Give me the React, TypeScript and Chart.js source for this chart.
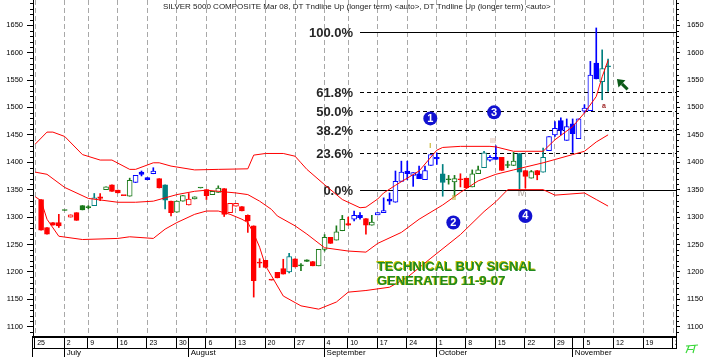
import React, { useEffect, useRef } from 'react';
import { Chart, registerables } from 'chart.js';

Chart.register(...registerables);

const FONT = "'Liberation Sans', Arial, sans-serif";

const TITLE_TEXT =
  'SILVER 5000 COMPOSITE Mar 08, DT Tndline Up (longer term) <auto>, DT Tndline Up (longer term) <auto>';

// ---------- calendar (trading sessions) ----------
const YEAR = 2007;
const MONTH_NAMES = ['June', 'July', 'August', 'September', 'October', 'November'];
const JUNE_DAYS = [25, 26, 27, 28, 29];
const JULY_DAYS = [2, 3, 5, 6, 9, 10, 11, 12, 13, 16, 17, 18, 19, 20, 23, 24, 25, 26, 27, 30, 31];
const AUGUST_DAYS = [1, 2, 3, 6, 7, 8, 9, 10, 13, 14, 15, 16, 17, 20, 21, 22, 23, 24, 27, 28, 29, 30, 31];
const SEPTEMBER_DAYS = [4, 5, 6, 7, 10, 11, 12, 13, 14, 17, 18, 19, 20, 21, 24, 25, 26, 27, 28];
const OCTOBER_DAYS = [1, 2, 3, 4, 5, 8, 9, 10, 11, 12, 15, 16, 17, 18, 19, 22, 23, 24, 25, 26, 29, 30, 31];
const NOVEMBER_DAYS = [1, 2, 5, 6, 7, 8, 9, 12, 13, 14, 15, 16, 19, 20, 21, 22, 23, 26, 27];
const MONTH_DAYS = [JUNE_DAYS, JULY_DAYS, AUGUST_DAYS, SEPTEMBER_DAYS, OCTOBER_DAYS, NOVEMBER_DAYS];

// ---------- price axis ticks ----------
const Y_TICKS = [1100, 1150, 1200, 1250, 1300, 1350, 1400, 1450, 1500, 1550, 1600, 1650];

// ---------- candles (index = session, 0 = Jun 25) ----------
const OPEN = [null,
  1332, 1281, 1290, 1290, 1312, 1300, 1308, 1321, 1319, 1321,
  1337, 1350, 1359, 1349, 1339, 1338, 1363, 1382, 1372, 1379,
  1370, 1359, 1329, 1309, 1329, 1322, 1333, 1353, 1350, 1341,
  1345, 1352, 1308, 1320, 1319, 1303, 1284, 1216, 1221, 1185,
  1199, 1206, 1200, 1224, 1211, 1222, 1219, 1211, 1241, 1263,
  1258, 1275, 1288, 1296, 1303, 1297, 1285, 1304, 1308, 1333,
  1327, 1365, 1384, 1376, 1379, 1368, 1394, 1409, 1379, 1368,
  1364, 1368, 1371, 1355, 1379, 1390, 1404, 1409, 1409, 1394,
  1394, 1416, 1385, 1371, 1385, 1382, 1421, 1450, 1476, 1440,
  1470, 1443, 1493, 1494, 1581, 1547, 1574];
const HIGH = [null,
  1332, 1281, 1290, 1305, 1312, 1304, 1308, 1321, 1321, 1343,
  1343, 1355, 1359, 1349, 1339, 1371, 1376, 1384, 1372, 1390,
  1370, 1359, 1329, 1329, 1339, 1343, 1337, 1353, 1350, 1347,
  1357, 1352, 1325, 1325, 1319, 1304, 1284, 1224, 1221, 1185,
  1199, 1223, 1234, 1224, 1215, 1222, 1219, 1241, 1268, 1263,
  1284, 1303, 1300, 1311, 1308, 1297, 1303, 1308, 1335, 1344,
  1384, 1402, 1402, 1381, 1393, 1393, 1414, 1417, 1396, 1376,
  1376, 1379, 1371, 1386, 1393, 1420, 1412, 1430, 1409, 1402,
  1418, 1416, 1385, 1385, 1385, 1426, 1447, 1474, 1481, 1479,
  1479, 1479, 1505, 1584, 1645, 1605, 1588];
const LOW = [null,
  1276, 1269, 1285, 1281, 1312, 1300, 1294, 1313, 1315, 1321,
  1330, 1350, 1347, 1344, 1339, 1338, 1363, 1375, 1368, 1379,
  1353, 1315, 1302, 1309, 1329, 1322, 1333, 1353, 1332, 1341,
  1345, 1301, 1308, 1320, 1311, 1272, 1154, 1208, 1208, 1185,
  1189, 1196, 1198, 1209, 1202, 1219, 1211, 1211, 1238, 1252,
  1258, 1275, 1285, 1293, 1296, 1269, 1285, 1304, 1308, 1323,
  1327, 1365, 1368, 1356, 1370, 1368, 1394, 1396, 1338, 1360,
  1338, 1355, 1353, 1355, 1379, 1390, 1402, 1405, 1385, 1390,
  1394, 1351, 1353, 1371, 1368, 1382, 1421, 1447, 1450, 1440,
  1418, 1443, 1490, 1494, 1552, 1514, 1529];
const CLOSE = [null,
  1276, 1269, 1285, 1284, 1312, 1304, 1294, 1313, 1317, 1335,
  1334, 1355, 1347, 1344, 1339, 1367, 1376, 1378, 1368, 1384,
  1353, 1331, 1308, 1329, 1339, 1333, 1337, 1353, 1339, 1347,
  1353, 1305, 1325, 1325, 1311, 1293, 1184, 1216, 1208, 1185,
  1189, 1196, 1228, 1209, 1211, 1219, 1211, 1241, 1263, 1252,
  1273, 1296, 1285, 1303, 1299, 1285, 1291, 1308, 1312, 1329,
  1365, 1382, 1379, 1381, 1370, 1385, 1414, 1406, 1363, 1368,
  1370, 1368, 1353, 1379, 1386, 1417, 1409, 1405, 1385, 1394,
  1402, 1382, 1374, 1383, 1377, 1409, 1447, 1462, 1458, 1465,
  1452, 1479, 1499, 1559, 1552, 1571, 1574];
// colour class of each candle: r red, g green, b blue, t teal
const CANDLE_CLASS =
  'x' + 'rrrrgrrggt' + 'rgrrrgbbbb' + 'rtrggrggrg' + 'grrrrrrrrr' + 'rrtrggrggr' +
  'ggrbbrgbbb' + 'bbbbbbbbtg' + 'grrggtbbrg' + 'gtrgrtbbbb' + 'bbbbbtt';

// ---------- bands: [session index, value] ----------
const UPPER_BAND = [
  [0, 1433], [2, 1455], [3, 1455], [5, 1447], [8, 1414], [11, 1404], [13, 1404], [16, 1387], [17, 1387],
  [20, 1399], [21, 1399], [23, 1393], [27, 1386], [31, 1387], [36, 1388], [37, 1413], [39, 1416], [42, 1416],
  [44, 1411], [45, 1399], [46, 1387], [49, 1359], [52, 1332], [55, 1317], [56, 1318], [58, 1333], [59, 1344],
  [61, 1358], [65, 1384], [68, 1422], [69, 1427], [72, 1429], [77, 1429], [78, 1428], [81, 1420], [86, 1420],
  [88, 1441], [91, 1465], [93, 1490], [95, 1520], [96, 1556], [97, 1586]];
const MIDDLE_BAND = [
  [0, 1382], [2, 1378], [5, 1354], [9, 1334], [14, 1327], [17, 1327], [20, 1329], [22, 1335], [24, 1341],
  [27, 1347], [29, 1349], [31, 1347], [34, 1344], [36, 1341], [38, 1329], [40, 1314], [41, 1302], [44, 1284],
  [46, 1269], [49, 1244], [53, 1238], [56, 1236], [58, 1252], [62, 1272], [65, 1296], [69, 1322], [72, 1345],
  [75, 1366], [78, 1378], [81, 1386], [86, 1399], [88, 1405], [91, 1414], [93, 1420], [95, 1437], [97, 1450]];
const LOWER_BAND = [
  [0, 1337], [1, 1330], [2, 1296], [4, 1265], [8, 1259], [14, 1261], [16, 1264], [20, 1261], [22, 1278],
  [24, 1290], [27, 1305], [29, 1311], [31, 1311], [33, 1305], [35, 1296], [36, 1290], [37, 1270], [38, 1245],
  [39, 1211], [40, 1193], [42, 1156], [45, 1138], [48, 1132], [51, 1145], [53, 1163], [56, 1166], [60, 1172],
  [63, 1190], [67, 1225], [72, 1268], [76, 1310], [78, 1328], [80, 1350], [86, 1350], [88, 1340], [93, 1344],
  [95, 1332], [97, 1320]];

// ---------- Fibonacci retracement ----------
const FIB_LOW = 1350;
const FIB_HIGH = 1637;
const FIB_PCTS = [100, 61.8, 50, 38.2, 23.6, 0];
const FIB_LABELS = ['100.0%', '61.8%', '50.0%', '38.2%', '23.6%', '0.0%'];
const FIB_START = 55;

// ---------- annotations (session index, value) ----------
const WAVE_TEXT = ['1', '2', '3', '4'];
const WAVE_IDX = [66.9, 70.8, 77.7, 83.0];
const WAVE_VAL = [1480, 1290, 1491, 1302];
const MARK_TEXT = ['I', 'II', 'III', 'IV', 'a'];
const MARK_IDX = [66.9, 70.9, 77.5, 82.3, 96.3];
const MARK_VAL = [1430, 1334, 1438, 1342, 1503];
const MARK_COLOR = ['#c4b020', '#b8b030', '#e2c6b8', '#b4aca4', '#a02828'];
const NOTE_LINES = ['TECHNICAL BUY SIGNAL', 'GENERATED 11-9-07'];
const NOTE_IDX = 57.9;
const NOTE_VAL = [1209, 1182];
const ARROW_TIP = [98.5, 1552];
const ARROW_TAIL = [100.3, 1533];

const Y_MIN = 1083;
const Y_MAX = 1696;
const X_MIN = -0.37;
const X_MAX = 108.5;

const COLORS: Record<string, string> = { r: '#ff0000', g: '#1a7a1a', b: '#0000ff', t: '#008080' };

// build sessions
type Session = { month: number; day: number };
const SESSIONS: Session[] = [];
MONTH_DAYS.forEach((days, m) => days.forEach((d) => SESSIONS.push({ month: m, day: d })));
const weekday = (s: Session) => new Date(YEAR, 5 + s.month, s.day).getDay();
const WEEK_START_IDX = SESSIONS.map((_, i) => i).filter(
  (i) => i === 0 || weekday(SESSIONS[i]) <= weekday(SESSIONS[i - 1])
);
const MONTH_START_IDX = SESSIONS.map((_, i) => i).filter(
  (i) => i > 0 && SESSIONS[i].month !== SESSIONS[i - 1].month
);

const overlayPlugin = {
  id: 'overlay',
  beforeDatasetsDraw(chart: any) {
    const { ctx, chartArea, scales } = chart;
    const x = scales.x, y = scales.y;
    ctx.save();
    const x0 = x.getPixelForValue(FIB_START);
    FIB_PCTS.forEach((p, k) => {
      const v = FIB_LOW + ((FIB_HIGH - FIB_LOW) * p) / 100;
      const py = Math.round(y.getPixelForValue(v)) + 0.5;
      ctx.strokeStyle = '#000';
      ctx.lineWidth = 1;
      ctx.setLineDash(p === 0 || p === 100 ? [] : [4, 3]);
      ctx.beginPath();
      ctx.moveTo(x0, py);
      ctx.lineTo(chartArea.right, py);
      ctx.stroke();
      ctx.setLineDash([]);
      ctx.font = `bold 13px ${FONT}`;
      ctx.textAlign = 'right';
      ctx.textBaseline = 'middle';
      ctx.fillStyle = '#262626';
      ctx.fillText(FIB_LABELS[k], x0 - 7, py + 0.5);
    });
    ctx.restore();
  },
  afterDatasetsDraw(chart: any) {
    const { ctx, scales } = chart;
    const x = scales.x, y = scales.y;
    ctx.save();
    // wave circles
    WAVE_TEXT.forEach((t, k) => {
      const px = x.getPixelForValue(WAVE_IDX[k]);
      const py = y.getPixelForValue(WAVE_VAL[k]);
      ctx.beginPath();
      ctx.arc(px, py, 7, 0, Math.PI * 2);
      ctx.fillStyle = '#1212d0';
      ctx.fill();
      ctx.fillStyle = '#ffffff';
      ctx.font = `bold 11px ${FONT}`;
      ctx.textAlign = 'center';
      ctx.textBaseline = 'middle';
      ctx.fillText(t, px, py + 0.5);
    });
    // small marks
    MARK_TEXT.forEach((t, k) => {
      const px = x.getPixelForValue(MARK_IDX[k]);
      const py = y.getPixelForValue(MARK_VAL[k]);
      ctx.font = `bold 7px ${FONT}`;
      ctx.textAlign = 'center';
      ctx.textBaseline = 'middle';
      ctx.fillStyle = MARK_COLOR[k];
      ctx.fillText(t, px, py);
    });
    // buy signal note
    NOTE_LINES.forEach((t, k) => {
      const px = x.getPixelForValue(NOTE_IDX);
      const py = y.getPixelForValue(NOTE_VAL[k]);
      ctx.font = `bold 13px ${FONT}`;
      ctx.textAlign = 'left';
      ctx.textBaseline = 'middle';
      ctx.fillStyle = '#c8c000';
      ctx.fillText(t, px - 1, py - 0.5);
      ctx.fillStyle = '#1f8a1f';
      ctx.fillText(t, px, py);
    });
    // arrow
    const tx = x.getPixelForValue(ARROW_TIP[0]), ty = y.getPixelForValue(ARROW_TIP[1]);
    const sx = x.getPixelForValue(ARROW_TAIL[0]), sy = y.getPixelForValue(ARROW_TAIL[1]);
    const len = Math.hypot(tx - sx, ty - sy);
    const dx = (tx - sx) / len, dy = (ty - sy) / len;
    const bx = tx - dx * 7, by = ty - dy * 7;
    ctx.fillStyle = '#0b5a18';
    ctx.strokeStyle = '#0b5a18';
    ctx.lineWidth = 3;
    ctx.beginPath();
    ctx.moveTo(sx, sy);
    ctx.lineTo(bx, by);
    ctx.stroke();
    ctx.beginPath();
    ctx.moveTo(tx, ty);
    ctx.lineTo(bx - dy * 5, by + dx * 5);
    ctx.lineTo(bx + dy * 5, by - dx * 5);
    ctx.closePath();
    ctx.fill();
    ctx.restore();
  },
  afterDraw(chart: any) {
    const { ctx, chartArea, scales } = chart;
    const x = scales.x, y = scales.y;
    const { left, right, bottom } = chartArea;
    ctx.save();
    // minor ticks
    ctx.fillStyle = '#000';
    for (let v = 1090; v <= 1690; v += 10) {
      if (v % 50 === 0) continue;
      const py = Math.round(y.getPixelForValue(v));
      ctx.fillRect(left - 3, py, 3, 1);
      ctx.fillRect(right, py, 3, 1);
    }
    // clip overflow of date row at right
    ctx.fillStyle = '#ffffff';
    ctx.fillRect(right + 1, bottom + 1, 708 - right, 20);
    // x-axis boxes
    ctx.fillStyle = '#000';
    ctx.fillRect(left - 1, bottom, right - left + 2, 2);
    ctx.fillRect(left - 1, bottom + 12, right - left + 2, 1);
    ctx.fillRect(left - 1, bottom, 1, 21);
    ctx.fillRect(right, bottom, 1, 12);
    WEEK_START_IDX.forEach((i) => {
      const px = Math.round(x.getPixelForValue(i)) - 1;
      ctx.fillRect(px, bottom, 1, 12);
    });
    MONTH_START_IDX.forEach((i) => {
      const px = Math.round(x.getPixelForValue(i)) - 1;
      ctx.fillRect(px, bottom, 1, 21);
    });
    // title
    ctx.font = `8px ${FONT}`;
    ctx.textAlign = 'left';
    ctx.textBaseline = 'middle';
    ctx.fillStyle = '#1a1a1a';
    ctx.fillText(TITLE_TEXT, 163, 7);
    // small logo mark bottom right
    ctx.strokeStyle = '#3cd83c';
    ctx.lineWidth = 1.2;
    ctx.beginPath();
    ctx.moveTo(686, 346); ctx.lineTo(698, 345);
    ctx.moveTo(689, 346); ctx.lineTo(686, 353);
    ctx.moveTo(688, 349.5); ctx.lineTo(693, 349.5);
    ctx.moveTo(695, 345.5); ctx.lineTo(693, 353);
    ctx.stroke();
    ctx.restore();
  },
};

const yAxis = (position: 'left' | 'right', width: number, tickLength: number, padding: number) => ({
  type: 'linear',
  position,
  min: Y_MIN,
  max: Y_MAX,
  bounds: 'data',
  afterBuildTicks: (s: any) => {
    s.ticks = Y_TICKS.map((v) => ({ value: v }));
  },
  ticks: {
    autoSkip: false,
    color: '#000',
    font: { family: FONT, size: 7.5 },
    padding,
    callback: (v: any) => String(v),
  },
  grid: { drawOnChartArea: false, drawTicks: true, tickLength, color: '#000', tickColor: '#000' },
  border: { display: true, color: '#000', width: 1 },
  afterFit: (s: any) => {
    s.width = width;
    s.paddingTop = 0;
    s.paddingBottom = 0;
  },
});

export default function App() {
  const ref = useRef<HTMLCanvasElement>(null);
  useEffect(() => {
    const canvas = ref.current;
    if (!canvas) return;
    const idx: number[] = [];
    for (let i = 0; i < OPEN.length; i++) if (OPEN[i] !== null) idx.push(i);
    const colorOf = (i: number) => COLORS[CANDLE_CLASS[i]];
    const wickData = idx.map((i) => ({ x: i, y: [LOW[i] as number, HIGH[i] as number] }));
    const bodyData = idx.map((i) => ({ x: i, y: [OPEN[i] as number, CLOSE[i] as number] }));
    const lineColors = idx.map(colorOf);
    const bodyFill = idx.map((i) => ((CLOSE[i] as number) > (OPEN[i] as number) ? '#ffffff' : colorOf(i)));
    const band = (pts: number[][]) => pts.map(([i, v]) => ({ x: i, y: v }));
    const bandStyle = {
      type: 'line' as const,
      borderColor: '#ff0000',
      borderWidth: 1,
      pointRadius: 0,
      tension: 0,
      fill: false,
      order: 1,
    };

    const chart = new Chart(canvas, {
      type: 'bar',
      data: {
        datasets: [
          { ...bandStyle, data: band(UPPER_BAND) } as any,
          { ...bandStyle, data: band(MIDDLE_BAND) } as any,
          { ...bandStyle, data: band(LOWER_BAND) } as any,
          {
            type: 'bar',
            data: bodyData,
            backgroundColor: bodyFill,
            borderColor: lineColors,
            borderWidth: 1,
            borderSkipped: false,
            barThickness: 5,
            grouped: false,
            minBarLength: 1,
            order: 2,
          } as any,
          {
            type: 'bar',
            data: wickData,
            backgroundColor: lineColors,
            borderWidth: 0,
            barThickness: 1,
            grouped: false,
            order: 3,
          } as any,
        ],
      },
      options: {
        responsive: false,
        animation: false,
        devicePixelRatio: 1,
        events: [],
        layout: { padding: 0 },
        plugins: { legend: { display: false }, tooltip: { enabled: false }, title: { display: false } },
        scales: {
          x: {
            type: 'linear',
            position: 'bottom',
            min: X_MIN,
            max: X_MAX,
            bounds: 'data',
            offset: false,
            weight: 0,
            grid: { offset: false, drawOnChartArea: true, drawTicks: false, color: '#a8a8a8', lineWidth: 1 },
            border: { display: false, dash: [5, 3] },
            afterBuildTicks: (s: any) => {
              s.ticks = WEEK_START_IDX.map((v) => ({ value: v }));
            },
            ticks: {
              autoSkip: false,
              maxRotation: 0,
              minRotation: 0,
              align: 'start',
              labelOffset: 2,
              padding: 3,
              color: '#000',
              font: { family: FONT, size: 7 },
              callback: (v: any) => (SESSIONS[v] ? String(SESSIONS[v].day) : ''),
            },
            afterFit: (s: any) => {
              s.height = 12;
              s.paddingLeft = 0;
              s.paddingRight = 0;
            },
          } as any,
          x2: {
            type: 'linear',
            position: 'bottom',
            min: X_MIN,
            max: X_MAX,
            bounds: 'data',
            offset: false,
            weight: 1,
            grid: { display: false, drawTicks: false },
            border: { display: false },
            afterBuildTicks: (s: any) => {
              s.ticks = MONTH_START_IDX.map((v) => ({ value: v }));
            },
            ticks: {
              autoSkip: false,
              maxRotation: 0,
              minRotation: 0,
              align: 'start',
              labelOffset: 2,
              padding: 0,
              color: '#000',
              font: { family: FONT, size: 8 },
              callback: (v: any) => (SESSIONS[v] ? MONTH_NAMES[SESSIONS[v].month] : ''),
            },
            afterFit: (s: any) => {
              s.height = 9;
              s.paddingLeft = 0;
              s.paddingRight = 0;
            },
          } as any,
          y: yAxis('left', 33, 6, 4) as any,
          y2: yAxis('right', 32, 4, 7) as any,
        },
      },
      plugins: [overlayPlugin],
    });
    return () => chart.destroy();
  }, []);

  return (
    <div style={{ position: 'absolute', left: 0, top: 0, width: 708, height: 357, background: '#ffffff' }}>
      <canvas ref={ref} width={708} height={357} style={{ width: 708, height: 357, display: 'block' }} />
    </div>
  );
}
